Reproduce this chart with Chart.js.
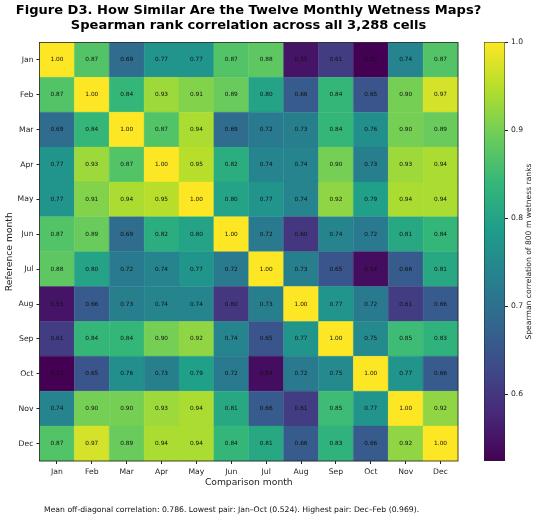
<!DOCTYPE html>
<html>
<head>
<meta charset="utf-8">
<title>Figure D3</title>
<script src="https://cdn.jsdelivr.net/npm/chart.js@4"></script>
<style>
html, body { margin: 0; padding: 0; background: #fff; }
canvas { position: absolute; top: 0; }
#heat { left: 0; }
#bar { left: 470px; }
#note {
	position: absolute; left: 44px; top: 505px; white-space: nowrap;
	font: 7.7px "DejaVu Sans"; color: #111;
}
</style>
</head>
<body>
<canvas id="heat" width="497" height="520"></canvas>
<canvas id="bar" width="69" height="520"></canvas>
<div id="note">Mean off-diagonal correlation: 0.786. Lowest pair: Jan–Oct (0.524). Highest pair: Dec–Feb (0.969).</div>
<script>
const months = ["Jan", "Feb", "Mar", "Apr", "May", "Jun", "Jul", "Aug", "Sep", "Oct", "Nov", "Dec"];

// one row per reference month
const jan = [1.00, 0.87, 0.69, 0.77, 0.77, 0.87, 0.88, 0.55, 0.61, 0.52, 0.74, 0.87];
const feb = [0.87, 1.00, 0.84, 0.93, 0.91, 0.89, 0.80, 0.66, 0.84, 0.65, 0.90, 0.97];
const mar = [0.69, 0.84, 1.00, 0.87, 0.94, 0.69, 0.72, 0.73, 0.84, 0.76, 0.90, 0.89];
const apr = [0.77, 0.93, 0.87, 1.00, 0.95, 0.82, 0.74, 0.74, 0.90, 0.73, 0.93, 0.94];
const may = [0.77, 0.91, 0.94, 0.95, 1.00, 0.80, 0.77, 0.74, 0.92, 0.79, 0.94, 0.94];
const jun = [0.87, 0.89, 0.69, 0.82, 0.80, 1.00, 0.72, 0.60, 0.74, 0.72, 0.81, 0.84];
const jul = [0.88, 0.80, 0.72, 0.74, 0.77, 0.72, 1.00, 0.73, 0.65, 0.54, 0.66, 0.81];
const aug = [0.55, 0.66, 0.73, 0.74, 0.74, 0.60, 0.73, 1.00, 0.77, 0.72, 0.61, 0.66];
const sep = [0.61, 0.84, 0.84, 0.90, 0.92, 0.74, 0.65, 0.77, 1.00, 0.75, 0.85, 0.83];
const oct = [0.52, 0.65, 0.76, 0.73, 0.79, 0.72, 0.54, 0.72, 0.75, 1.00, 0.77, 0.66];
const nov = [0.74, 0.90, 0.90, 0.93, 0.94, 0.81, 0.66, 0.61, 0.85, 0.77, 1.00, 0.92];
const dec = [0.87, 0.97, 0.89, 0.94, 0.94, 0.84, 0.81, 0.66, 0.83, 0.66, 0.92, 1.00];
const rows = [jan, feb, mar, apr, may, jun, jul, aug, sep, oct, nov, dec];

const colorMin = 0.524;
const colorMax = 1.0;
const colorTicks = [0.6, 0.7, 0.8, 0.9, 1.0];

const viridis = [
	[68, 1, 84], [72, 40, 120], [62, 74, 137], [49, 104, 142], [38, 130, 142],
	[31, 158, 137], [53, 183, 121], [109, 205, 89], [180, 222, 44], [253, 231, 37]
];

function colorFor(v) {
	let t = (v - colorMin) / (colorMax - colorMin);
	t = Math.max(0, Math.min(1, t)) * (viridis.length - 1);
	const i = Math.min(Math.floor(t), viridis.length - 2);
	const f = t - i;
	const c = viridis[i].map((a, k) => Math.round(a + (viridis[i + 1][k] - a) * f));
	return "rgb(" + c.join(",") + ")";
}

Chart.defaults.font.family = '"DejaVu Sans"';
Chart.defaults.color = "#222";
Chart.defaults.animation = false;

const cells = [];
rows.forEach((row, r) => row.forEach((v, c) => {
	cells.push({x: months[c], y: months[r], v: v});
}));

// cell values and the box around the heatmap
const cellLabels = {
	id: "cellLabels",
	afterDatasetsDraw(chart) {
		const {ctx, chartArea: a} = chart;
		ctx.save();
		ctx.font = '5.8px "DejaVu Sans"';
		ctx.fillStyle = "#111";
		ctx.textAlign = "center";
		ctx.textBaseline = "middle";
		chart.getDatasetMeta(0).data.forEach((pt, i) => {
			ctx.fillText(cells[i].v.toFixed(2), pt.x, pt.y);
		});
		ctx.strokeStyle = "#222";
		ctx.lineWidth = 0.8;
		ctx.strokeRect(a.left, a.top, a.right - a.left, a.bottom - a.top);
		ctx.restore();
	}
};

new Chart(document.getElementById("heat"), {
	type: "scatter",
	data: {
		datasets: [{
			data: cells,
			pointStyle: "rect",
			pointRadius: (c) => c.chart.scales.x.width / 12 * Math.SQRT1_2,
			pointBackgroundColor: (c) => colorFor(c.raw.v),
			pointBorderColor: (c) => colorFor(c.raw.v),
			pointBorderWidth: 0.4
		}]
	},
	plugins: [cellLabels],
	options: {
		responsive: false,
		events: [],
		layout: {padding: {left: 0, right: 0, top: 0, bottom: 32}},
		plugins: {
			legend: {display: false},
			tooltip: {enabled: false},
			title: {
				display: true,
				text: ["Figure D3. How Similar Are the Twelve Monthly Wetness Maps?", "Spearman rank correlation across all 3,288 cells"],
				color: "#000",
				font: {size: 13.05, weight: "bold", lineHeight: 1.08},
				padding: {top: 4, bottom: 10.3}
			}
		},
		scales: {
			x: {
				type: "category",
				labels: months,
				offset: true,
				afterFit: (s) => { s.height = 27; },
				grid: {offset: false, drawOnChartArea: false, tickLength: 3, tickColor: "#222"},
				border: {display: false},
				ticks: {font: {size: 7.7}, padding: 3, maxRotation: 0, autoSkip: false},
				title: {display: true, text: "Comparison month", font: {size: 9.2}, padding: 0}
			},
			y: {
				type: "category",
				labels: months,
				offset: true,
				afterFit: (s) => { s.width = 39.5; },
				grid: {offset: false, drawOnChartArea: false, tickLength: 3, tickColor: "#222"},
				border: {display: false},
				ticks: {font: {size: 7.7}, padding: 3, autoSkip: false},
				title: {display: true, text: "Reference month", font: {size: 9.2}, padding: {top: 4, bottom: 0}}
			},
			// empty right gutter, so the title stays centred over the whole canvas
			gutter: {
				axis: "y",
				position: "right",
				afterFit: (s) => { s.width = 39; },
				grid: {display: false},
				border: {display: false},
				ticks: {display: false}
			}
		}
	}
});

// colorbar label reads upward, which a right-hand axis title does not do
const barLabel = {
	id: "barLabel",
	afterDraw(chart) {
		const ctx = chart.ctx;
		ctx.save();
		ctx.translate(59, 251.5);
		ctx.rotate(-Math.PI / 2);
		ctx.font = '7.64px "DejaVu Sans"';
		ctx.fillStyle = "#222";
		ctx.textAlign = "center";
		ctx.textBaseline = "middle";
		ctx.fillText("Spearman correlation of 800 m wetness ranks", 0, 0);
		ctx.restore();
	}
};

function barGradient(c) {
	const a = c.chart.chartArea;
	if (!a) return "rgb(68,1,84)";
	const g = c.chart.ctx.createLinearGradient(0, a.bottom, 0, a.top);
	viridis.forEach((s, i) => g.addColorStop(i / (viridis.length - 1), "rgb(" + s.join(",") + ")"));
	return g;
}

new Chart(document.getElementById("bar"), {
	type: "bar",
	data: {
		labels: [""],
		datasets: [{
			data: [[colorMin, colorMax]],
			backgroundColor: barGradient,
			borderColor: "#222",
			borderWidth: 0.8,
			borderSkipped: false,
			barPercentage: 1,
			categoryPercentage: 1
		}]
	},
	plugins: [barLabel],
	options: {
		responsive: false,
		events: [],
		layout: {padding: {left: 14, right: 0, top: 42, bottom: 59}},
		plugins: {legend: {display: false}, tooltip: {enabled: false}},
		scales: {
			x: {display: false},
			y: {
				position: "right",
				min: colorMin,
				max: colorMax,
				afterFit: (s) => { s.width = 34; },
				afterBuildTicks: (s) => { s.ticks = colorTicks.map((v) => ({value: v})); },
				grid: {drawOnChartArea: false, tickLength: 3, tickColor: "#222"},
				border: {display: false},
				ticks: {font: {size: 7.6}, padding: 3, callback: (v) => Number(v).toFixed(1)}
			}
		}
	}
});
</script>
</body>
</html>
